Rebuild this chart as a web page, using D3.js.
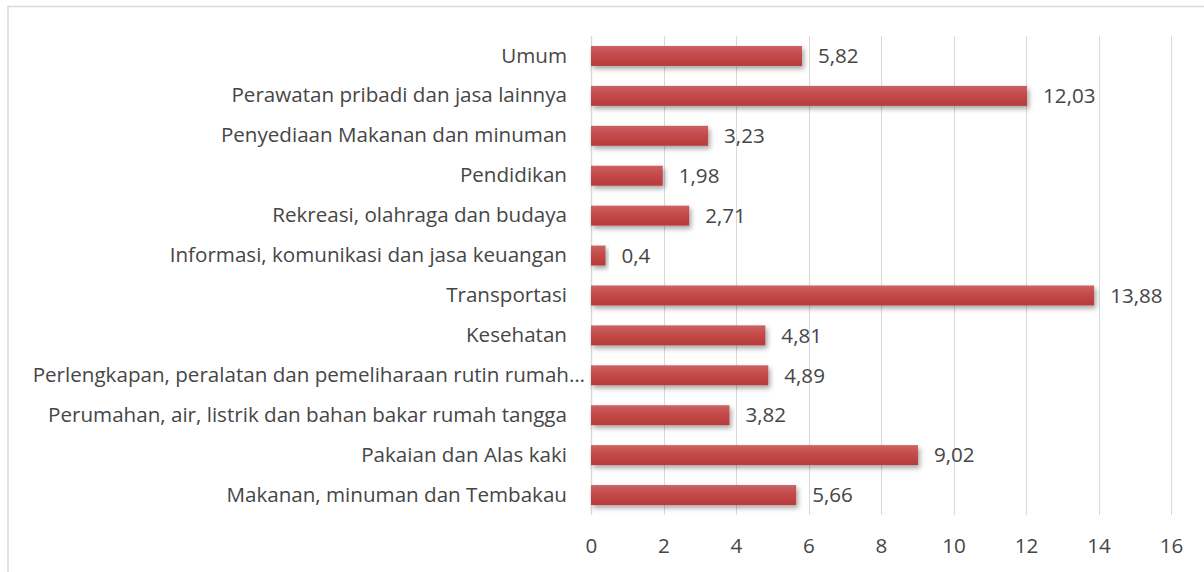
<!DOCTYPE html>
<html>
<head>
<meta charset="utf-8">
<script src="https://cdn.jsdelivr.net/npm/d3@7"></script>
<style>
    body { margin: 0; background: #fff; }
    svg text { font-family: "Open Sans", sans-serif; fill: #464646; }
</style>
</head>
<body>
<script>
const WIDTH = 1204;
const HEIGHT = 572;

// categories from top to bottom
var categories = [
    'Umum',
    'Perawatan pribadi dan jasa lainnya',
    'Penyediaan Makanan dan minuman',
    'Pendidikan',
    'Rekreasi, olahraga dan budaya',
    'Informasi, komunikasi dan jasa keuangan',
    'Transportasi',
    'Kesehatan',
    'Perlengkapan, peralatan dan pemeliharaan rutin rumah…',
    'Perumahan, air, listrik dan bahan bakar rumah tangga',
    'Pakaian dan Alas kaki',
    'Makanan, minuman dan Tembakau'
];
var values = [5.82, 12.03, 3.23, 1.98, 2.71, 0.4, 13.88, 4.81, 4.89, 3.82, 9.02, 5.66];
var xTicks = [0, 2, 4, 6, 8, 10, 12, 14, 16];

var margin = { top: 36, right: 33, bottom: 56, left: 591 };
var FONT = '20.6px';

var svg = d3.select('body')
    .append('svg')
    .attr('width', WIDTH)
    .attr('height', HEIGHT);

// chart area border (only left and top visible)
svg.append('rect')
    .attr('x', 8)
    .attr('y', 6.5)
    .attr('width', WIDTH + 20)
    .attr('height', HEIGHT + 20)
    .attr('fill', 'none')
    .attr('stroke', '#d9d9d9')
    .attr('stroke-width', 1.5);

var defs = svg.append('defs');
var grad = defs.append('linearGradient')
    .attr('id', 'barGrad')
    .attr('x1', 0).attr('y1', 0).attr('x2', 0).attr('y2', 1);
grad.append('stop').attr('offset', '0%').attr('stop-color', '#cb6262');
grad.append('stop').attr('offset', '45%').attr('stop-color', '#c44a4a');
grad.append('stop').attr('offset', '100%').attr('stop-color', '#b73a3a');

var shadow = defs.append('filter')
    .attr('id', 'shadow')
    .attr('x', '-10%').attr('y', '-30%')
    .attr('width', '130%').attr('height', '190%');
shadow.append('feDropShadow')
    .attr('dx', 2)
    .attr('dy', 3)
    .attr('stdDeviation', 2.5)
    .attr('flood-color', '#000')
    .attr('flood-opacity', 0.35);

var x = d3.scaleLinear()
    .domain([0, 16])
    .range([margin.left, WIDTH - margin.right]);

var y = d3.scaleBand()
    .domain(categories)
    .range([margin.top, HEIGHT - margin.bottom - 1])
    .paddingInner(0.5)
    .paddingOuter(0.25);

// vertical gridlines
svg.append('g')
    .selectAll('line')
    .data(xTicks)
    .enter()
    .append('line')
    .attr('x1', function(d) { return Math.round(x(d)) + 0.5; })
    .attr('x2', function(d) { return Math.round(x(d)) + 0.5; })
    .attr('y1', margin.top)
    .attr('y2', HEIGHT - margin.bottom - 1)
    .attr('stroke', '#d9d9d9')
    .attr('stroke-width', function(d) { return d === 0 ? 1.5 : 1; });

// x axis labels
var xAxis = d3.axisBottom(x)
    .tickValues(xTicks)
    .tickSize(0)
    .tickPadding(0)
    .tickFormat(d3.format('d'));
var gx = svg.append('g')
    .attr('transform', 'translate(0,' + (HEIGHT - margin.bottom + 30) + ')')
    .call(xAxis);
gx.select('.domain').remove();
gx.selectAll('text')
    .attr('font-size', FONT)
    .attr('dy', '0.35em')
    .style('font-family', '"Open Sans", sans-serif')
    .attr('fill', '#464646');

// category labels
var yAxis = d3.axisLeft(y).tickSize(0).tickPadding(24);
var gy = svg.append('g')
    .attr('transform', 'translate(' + margin.left + ',0)')
    .call(yAxis);
gy.select('.domain').remove();
gy.selectAll('text')
    .attr('font-size', FONT)
    .style('font-family', '"Open Sans", sans-serif')
    .attr('fill', '#464646')
    // the truncated label sits a bit further right, as in the original
    .attr('dx', function(d) { return d.endsWith('…') ? 18 : 0; });

// bars
svg.append('g')
    .selectAll('rect')
    .data(values)
    .enter()
    .append('rect')
    .attr('x', x(0))
    .attr('y', function(d, i) { return y(categories[i]); })
    .attr('width', function(d) { return x(d) - x(0); })
    .attr('height', y.bandwidth())
    .attr('fill', 'url(#barGrad)')
    .attr('filter', 'url(#shadow)');

// value labels
svg.append('g')
    .selectAll('text')
    .data(values)
    .enter()
    .append('text')
    .attr('x', function(d) { return x(d) + 16; })
    .attr('y', function(d, i) { return y(categories[i]) + y.bandwidth() / 2; })
    .attr('dy', '0.35em')
    .attr('font-size', FONT)
    .text(function(d) { return String(d).replace('.', ','); });
</script>
</body>
</html>
